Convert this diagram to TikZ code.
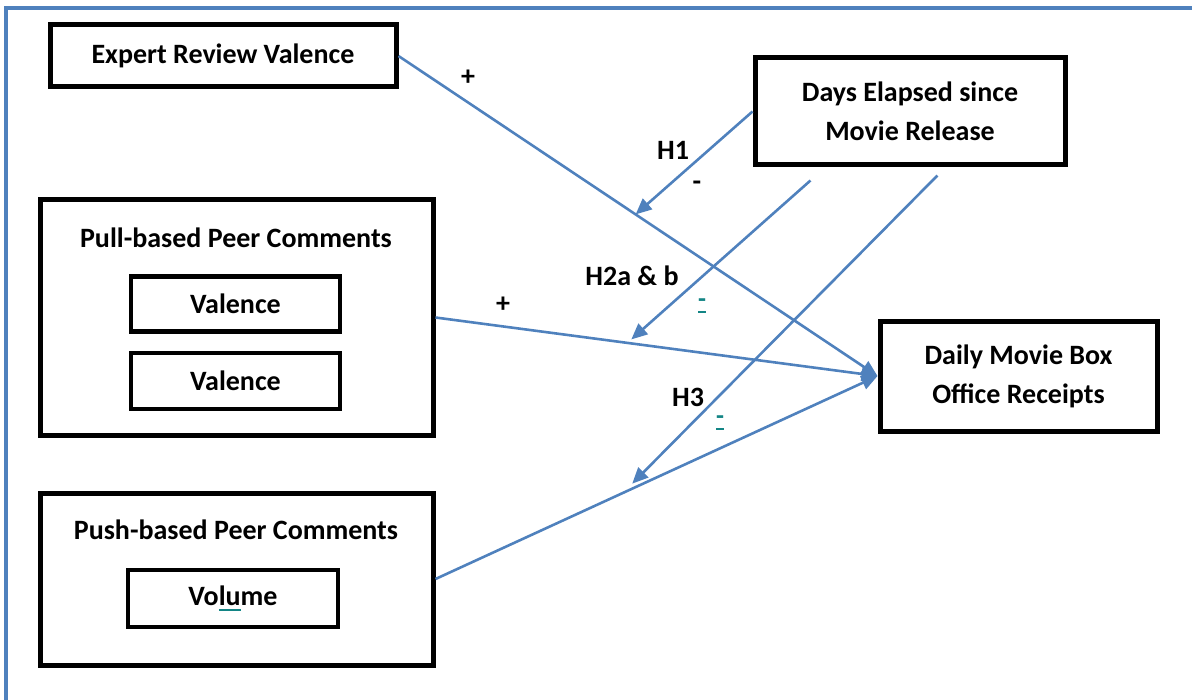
\documentclass[tikz,border=0pt]{standalone}
\usepackage{fontspec}
\setmainfont{Carlito}
\usetikzlibrary{arrows.meta,calc}
\definecolor{lblue}{HTML}{4F81BD}
\definecolor{tealul}{HTML}{138585}
\newcommand\tealunder[1]{\setbox0\hbox{#1}\rlap{\color{tealul}\rule[-2.6pt]{\wd0}{0.8pt}}\box0}
\begin{document}
\begin{tikzpicture}[x=0.5pt,y=-0.5pt,
  box/.style={draw=black, line width=2.5pt, rectangle, inner sep=0pt, align=center,
    font=\fontsize{14}{19.5}\selectfont\bfseries},
  ibox/.style={box, line width=2.3pt},
  lbl/.style={inner sep=0pt, font=\fontsize{14}{16}\selectfont\bfseries},
  tlbl/.style={inner sep=0pt, text=tealul, font=\fontsize{13}{15}\selectfont\bfseries},
  conn/.style={draw=lblue, line width=1.3pt, -{Triangle[length=8pt,width=7pt]}},
  plain/.style={draw=lblue, line width=1.3pt}]
\useasboundingbox (0,0) rectangle (1192,700);
% outer frame (only top and left edges visible)
\draw[lblue, line width=1.6pt] (6,702) -- (6,8) -- (1194,8);

% boxes
\node[box, minimum width=173pt, minimum height=31pt] (erv) at (223,56) {Expert Review Valence};
\node[box, minimum width=155pt, minimum height=53.5pt] (days) at (910,111.5) {Days Elapsed since\\Movie Release};
\node[box, minimum width=196.5pt, minimum height=117.5pt] (pull) at (236.5,317.5) {};
\node[lbl] (pullt) at (236,238) {Pull-based Peer Comments};
\node[ibox, minimum width=104.5pt, minimum height=27.5pt] (val1) at (235.5,304) {Valence};
\node[ibox, minimum width=104.5pt, minimum height=28pt] (val2) at (235.5,381) {Valence};
\node[box, minimum width=196.5pt, minimum height=86pt] (push) at (236.5,579) {};
\node[lbl] (pusht) at (236,530) {Push-based Peer Comments};
\node[ibox, minimum width=105pt, minimum height=28.5pt] (vol) at (233,598.5) {Vo\tealunder{lu}me};
\node[box, minimum width=138.5pt, minimum height=55pt] (daily) at (1018.5,376) {Daily Movie Box\\Office Receipts};

% main effects
\draw[conn] (erv.east) -- (daily.west);
\draw[conn] (pull.east) -- (daily.west);
\draw[conn] (push.east) -- (daily.west);

% moderation arrows
\coordinate (h1s) at (days.west);
\coordinate (h2s) at ($(days.south west)!0.184!(days.south east)+(0,13)$);
\coordinate (h3s) at ($(days.south west)!0.587!(days.south east)+(0,8)$);
\coordinate (h1e) at ($(erv.east)!0.495!(daily.west)$);
\coordinate (h2e) at ($(pull.east)!0.443!(daily.west)+(0,-4)$);
\coordinate (h3e) at ($(push.east)!0.445!(daily.west)+(0,-5)$);
\draw[conn] (h1s) -- (h1e);
\draw[conn] (h2s) -- (h2e);
\draw[conn] (h3s) -- (h3e);

% labels
\node[lbl] (p1) at (468,78) {+};
\node[lbl] (p2) at (503,305) {+};
\node[lbl] (h1) at (673,150) {H1};
\node[lbl] (m1) at (697,186) {-};
\node[lbl] (h2) at (632,276) {H2a \& b};
\node[tlbl] (m2) at (702,306) {\tealunder{-}};
\node[lbl] (h3) at (688,397) {H3};
\node[tlbl] (m3) at (720,423) {\tealunder{-}};
\end{tikzpicture}
\end{document}
